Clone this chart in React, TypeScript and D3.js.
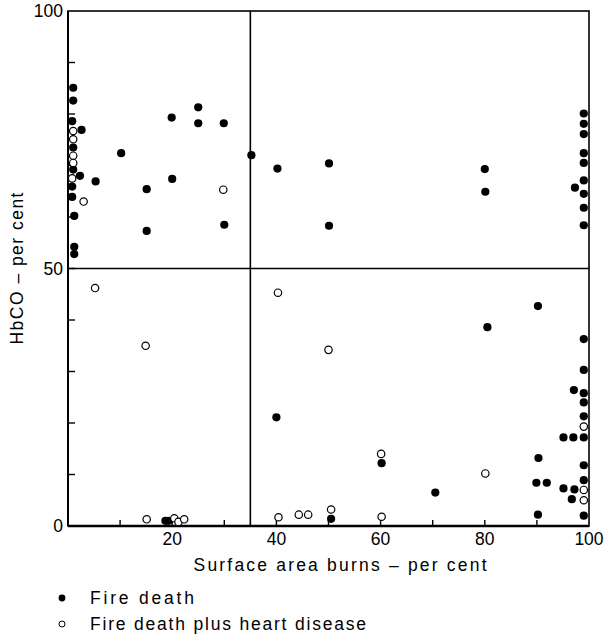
import React from "react";
import * as d3 from "d3";

const fireDeath: [number, number][] = [
  [1, 85.1], [1, 82.6], [0.8, 78.6], [2.6, 76.9], [1, 73.5], [1, 69.2], [2.3, 68.0], [0.8, 65.9], [0.8, 63.9],
  [1.2, 60.2], [1.2, 54.2], [1.2, 52.8],
  [5.3, 66.9], [10.2, 72.4], [15.1, 65.4], [15.1, 57.3], [19.9, 79.3], [20.0, 67.4], [25.0, 81.3], [25.0, 78.2],
  [29.9, 78.2], [30.0, 58.5], [35.2, 72.0], [40.2, 69.4], [50.1, 70.4], [50.1, 58.3], [80.0, 69.3], [80.1, 64.9],
  [99, 80.1], [99, 78.1], [99, 76.1], [99, 72.4], [99, 70.5], [99, 67.1], [97.3, 65.7], [99, 64.5], [99, 61.8], [99, 58.4],
  [40, 21.1], [18.7, 1.0], [19.3, 1.0], [50.5, 1.4], [60.2, 12.2], [70.5, 6.5], [80.5, 38.6], [90.2, 42.7],
  [90.3, 13.2], [89.9, 8.4], [91.9, 8.4], [90.2, 2.2],
  [99, 36.3], [99, 30.3], [97.1, 26.4], [99, 25.8], [99, 24.0], [99, 21.3], [95.1, 17.2], [97, 17.2], [99, 17.2],
  [99, 11.8], [99, 8.9], [95.1, 7.3], [97.2, 7.1], [96.7, 5.2], [99, 2.0],
];

const heartDisease: [number, number][] = [
  [1, 76.7], [1, 75.1], [1, 71.9], [1, 70.5], [0.8, 67.5], [3.0, 63.0], [29.8, 65.3],
  [5.2, 46.2], [14.9, 35.0], [40.3, 45.3], [50.0, 34.2],
  [15.1, 1.3], [20.4, 1.5], [21.2, 0.8], [22.3, 1.3], [40.4, 1.7], [44.3, 2.2], [46.1, 2.2], [50.5, 3.2],
  [60.1, 14.0], [60.2, 1.8], [80.1, 10.2], [99, 19.3], [99, 7.0], [99, 5.0],
];

const xTickLabels = [20, 40, 60, 80, 100];
const yTickLabels = [0, 50, 100];
const minorTicks = [10, 20, 30, 40, 50, 60, 70, 80, 90];
const xDivider = 35;
const yDivider = 50;
const xTitle = "Surface area burns \u2013 per cent";
const yTitle = "HbCO \u2013 per cent";
const legendLabels = ["Fire death", "Fire death plus heart disease"];

export default function App() {
  const x = d3.scaleLinear().domain([0, 100]).range([68, 589]);
  const y = d3.scaleLinear().domain([0, 100]).range([526, 11]);
  const font = "'Liberation Sans', Arial, sans-serif";
  const r = 4.1;

  return (
    <svg width={610} height={637} style={{ position: "absolute", left: 0, top: 0, background: "#fff" }}>
      {/* frame */}
      <rect x={x(0)} y={y(100)} width={x(100) - x(0)} height={y(0) - y(100)} fill="none" stroke="#000" strokeWidth={1.6} />
      <line x1={x(0)} x2={x(100)} y1={y(0)} y2={y(0)} stroke="#000" strokeWidth={2.4} />
      <line x1={x(0)} x2={x(0)} y1={y(0)} y2={y(100)} stroke="#000" strokeWidth={2} />
      {/* dividers */}
      <line x1={x(xDivider)} x2={x(xDivider)} y1={y(0)} y2={y(100)} stroke="#000" strokeWidth={1.6} />
      <line x1={x(0)} x2={x(100)} y1={y(yDivider)} y2={y(yDivider)} stroke="#000" strokeWidth={1.4} />
      {/* ticks */}
      {minorTicks.map((t) => (
        <line key={"xt" + t} x1={x(t)} x2={x(t)} y1={y(0)} y2={y(0) - 6} stroke="#000" strokeWidth={1.4} />
      ))}
      {minorTicks.map((t) => (
        <line key={"yt" + t} x1={x(0)} x2={x(0) + 7} y1={y(t)} y2={y(t)} stroke="#000" strokeWidth={1.4} />
      ))}
      {/* tick labels */}
      {yTickLabels.map((t) => (
        <text key={"yl" + t} x={x(0) - 5} y={y(t)} dy="0.35em" textAnchor="end" fontFamily={font} fontSize={17.5}>
          {t}
        </text>
      ))}
      {xTickLabels.map((t) => (
        <text key={"xl" + t} x={x(t)} y={y(0) + 19} textAnchor="middle" fontFamily={font} fontSize={17.5}>
          {t}
        </text>
      ))}
      {/* axis titles */}
      <text x={340} y={571} textAnchor="middle" fontFamily={font} fontSize={17.5} textLength={293} lengthAdjust="spacing">
        {xTitle}
      </text>
      <text
        transform={`translate(23, ${y(50)}) rotate(-90)`}
        textAnchor="middle"
        fontFamily={font}
        fontSize={17.5}
        textLength={152}
        lengthAdjust="spacing"
      >
        {yTitle}
      </text>
      {/* points */}
      {fireDeath.map((d, i) => (
        <circle key={"f" + i} cx={x(d[0])} cy={y(d[1])} r={r} fill="#000" />
      ))}
      {heartDisease.map((d, i) => (
        <circle key={"h" + i} cx={x(d[0])} cy={y(d[1])} r={r - 0.4} fill="#fff" stroke="#000" strokeWidth={1.2} />
      ))}
      {/* legend */}
      <circle cx={62} cy={598} r={3.4} fill="#000" />
      <text x={90} y={604} fontFamily={font} fontSize={17.5} textLength={104} lengthAdjust="spacing">
        {legendLabels[0]}
      </text>
      <circle cx={62} cy={624} r={3} fill="#fff" stroke="#000" strokeWidth={1} />
      <text x={90} y={630} fontFamily={font} fontSize={17.5} textLength={276} lengthAdjust="spacing">
        {legendLabels[1]}
      </text>
    </svg>
  );
}
